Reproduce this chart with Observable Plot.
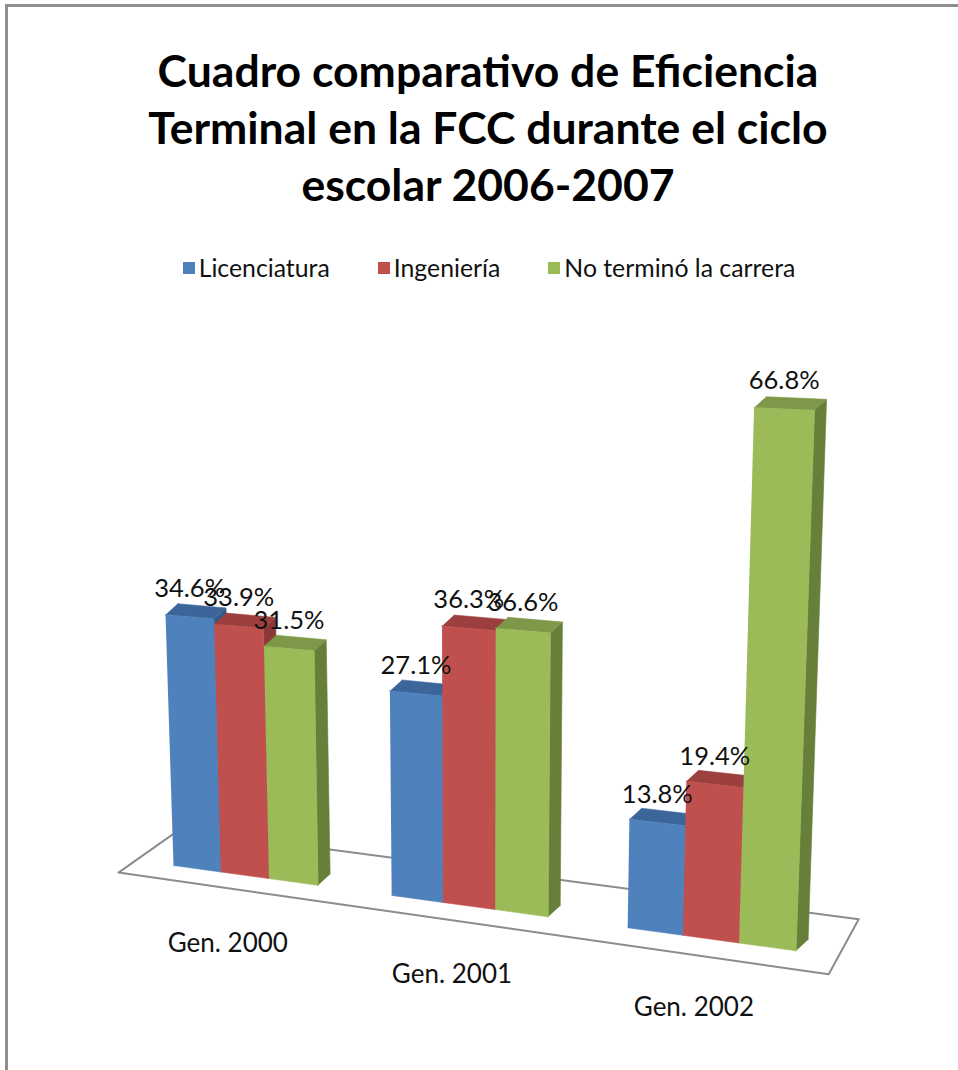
<!DOCTYPE html>
<html>
<head>
<meta charset="utf-8">
<script src="https://cdn.jsdelivr.net/npm/d3@7"></script>
<script src="https://cdn.jsdelivr.net/npm/@observablehq/plot@0.6"></script>
<style>
  html, body { margin: 0; padding: 0; background: #fff; overflow: hidden; }
  body { width: 958px; height: 1070px; position: relative; font-family: Lato, "Open Sans", sans-serif; }
  #frame { position: absolute; left: 5px; top: 4px; width: 1100px; height: 1200px;
           border-left: 3px solid #8f8f8f; border-top: 3px solid #8f8f8f; pointer-events: none; }
  #header { position: relative; width: 958px; height: 300px; }
  #title { position: absolute; top: 41px; left: 0; width: 976px; text-align: center;
           font-family: Lato; font-weight: bold; font-size: 44.5px; line-height: 57px; color: #000; }
  #legend { position: absolute; top: 253px; left: 0; width: 978px; display: flex; justify-content: center;
            align-items: center; gap: 48px; font-family: Lato; font-size: 24.8px; line-height: 30px; color: #111; }
  .item { display: flex; align-items: center; }
  .sw { width: 12px; height: 12px; margin-right: 4px; }
  #chart svg { display: block; }
</style>
</head>
<body>
<div id="frame"></div>
<div id="header">
  <div id="title"></div>
  <div id="legend"></div>
</div>
<div id="chart"></div>
<script>
// ---- data ----
const titleLines = ["Cuadro comparativo de Eficiencia", "Terminal en la FCC durante el ciclo", "escolar 2006-2007"];
const categories = ["Gen. 2000", "Gen. 2001", "Gen. 2002"];
const seriesNames = ["Licenciatura", "Ingeniería", "No terminó la carrera"];
const licenciatura = [34.6, 27.1, 13.8];
const ingenieria = [33.9, 36.3, 19.4];
const noTermino = [31.5, 36.6, 66.8];
const seriesValues = [licenciatura, ingenieria, noTermino];

// ---- styles ----
const palette = [
  {front: "#4F81BD", top: "#3C669A", side: "#345A88"},
  {front: "#C0504D", top: "#9B403E", side: "#8A3936"},
  {front: "#9BBB59", top: "#7D9848", side: "#66803A"}
];

// ---- simple 3D projection (x in bar widths, y in percent points) ----
const GROUP_STRIDE = 4.6, BAR_W = 1.03;
const K2 = 0.42 / 45.5;          // horizontal perspective widening
const SL = 0.137 * 45.5 / 7.25;  // floor slope
const HG = 0.00135 * 45.5 / 7.25;// height scale growth to the right
const XV = (475 - 173) / 45.5;   // vertical vanishing point x
const VPD = (10350 - 865) / 7.25;// vertical vanishing point distance
const DEPTH = [12 / 45.5, 11 / 7.25];
function proj(a, d, z) {
  const Xb = a + K2 * a * a;
  const Yb = -SL * Xb;
  const lift = z * (1 + HG * Xb);
  const Xt = Xb + (Xb - XV) * lift / (VPD - SL * Xb);
  return [Xt + d * DEPTH[0], Yb + lift + d * DEPTH[1]];
}

// ---- floor ----
const FLOOR_A = [-0.82, 13.19], FLOOR_FRONT = -1.5;
const FLOOR_BACK_L = [61 / 45.5, 43 / 7.25], FLOOR_BACK_R = [30 / 45.5, 55 / 7.25];
const fl0 = proj(FLOOR_A[0], FLOOR_FRONT, 0), fr = proj(FLOOR_A[1], FLOOR_FRONT, 0);
const fl = [fl0[0], fl0[1] + 0.6];
const floorPts = [fl, fr, [fr[0] + FLOOR_BACK_R[0], fr[1] + FLOOR_BACK_R[1]],
                  [fl[0] + FLOOR_BACK_L[0], fl[1] + FLOOR_BACK_L[1]], fl].map(([X, Y]) => ({X, Y}));

// ---- bar faces, painter's order ----
const faces = [];
const valueLabels = [];
categories.forEach((cat, g) => {
  seriesValues.forEach((vals, k) => {
    const v = vals[g];
    const a0 = g * GROUP_STRIDE + k * BAR_W, a1 = a0 + BAR_W;
    const poly = (kind, pts) => pts.forEach(([X, Y]) => faces.push({id: `${g}-${k}-${kind}`, color: palette[k][kind], X, Y}));
    poly("side", [proj(a1, 0, 0), proj(a1, 0, v), proj(a1, 1, v), proj(a1, 1, 0)]);
    poly("top", [proj(a0, 0, v), proj(a1, 0, v), proj(a1, 1, v), proj(a0, 1, v)]);
    poly("front", [proj(a0, 0, 0), proj(a1, 0, 0), proj(a1, 0, v), proj(a0, 0, v)]);
    const [X, Y] = proj((a0 + a1) / 2, 0, v);
    valueLabels.push({X, Y, text: v.toFixed(1) + "%"});
  });
});
const catLabels = categories.map((c, g) => {
  const [X, Y] = proj(g * GROUP_STRIDE + 1.5 * BAR_W, FLOOR_FRONT, 0);
  return {X, Y, text: c};
});

// ---- header ----
document.getElementById("title").innerHTML = titleLines.join("<br>");
document.getElementById("legend").innerHTML = seriesNames.map((s, i) =>
  `<div class="item"><div class="sw" style="background:${palette[i].front}"></div><span>${s}</span></div>`).join("");

// ---- plot ----
const W = 958, H = 770;
const chart = Plot.plot({
  width: W, height: H, margin: 0,
  x: {axis: null, domain: [-173 / 45.5, (W - 173) / 45.5], range: [0, W]},
  y: {axis: null, domain: [(565 - H) / 7.25, 565 / 7.25], range: [H, 0]},
  color: {type: "identity"},
  style: {fontFamily: "Lato", background: "transparent", overflow: "visible"},
  marks: [
    Plot.line(floorPts, {x: "X", y: "Y", stroke: "#8c8c8c", strokeWidth: 2, fill: "#fff", curve: "linear"}),
    Plot.line(faces, {x: "X", y: "Y", z: "id", fill: "color", stroke: "color", strokeWidth: 0.6, curve: "linear"}),
    Plot.text(valueLabels, {x: "X", y: "Y", text: "text", fontSize: 25.5, fontFamily: "Lato", fill: "#111", dy: -28, lineAnchor: "middle"}),
    Plot.text(catLabels, {x: "X", y: "Y", text: "text", fontSize: 26, fontFamily: "Lato", fill: "#111", dx: 1, dy: 52, lineAnchor: "middle"})
  ]
});
document.getElementById("chart").appendChild(chart);
</script>
</body>
</html>
